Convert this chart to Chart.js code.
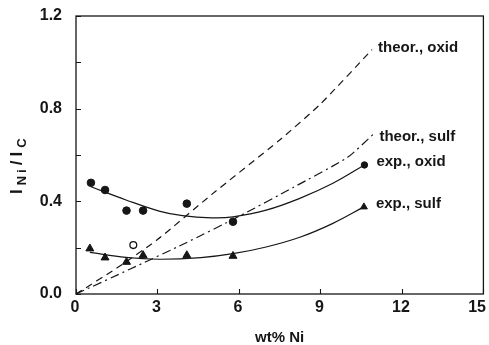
<!DOCTYPE html>
<html>
<head>
<meta charset="utf-8">
<script src="https://cdn.jsdelivr.net/npm/chart.js@4.4.0/dist/chart.umd.min.js"></script>
<style>
  html, body { margin: 0; padding: 0; background: #fff; }
  #wrap { width: 489px; height: 345px; }
</style>
</head>
<body>
<div id="wrap"><canvas id="chart" width="489" height="345"></canvas></div>
<script>
// ===== data (x = wt% Ni, y = I_Ni / I_C) =====
const X_TICKS = [0, 3, 6, 9, 12, 15];
const Y_TICKS = [0, 0.2, 0.4, 0.6, 0.8, 1.0, 1.2];

// measured points
const oxidX = [0.55, 1.07, 1.86, 2.47, 4.08, 5.78];
const oxidY = [0.48, 0.449, 0.36, 0.36, 0.39, 0.312];
const sulfX = [0.51, 1.07, 1.86, 2.47, 4.08, 5.78];
const sulfY = [0.196, 0.157, 0.138, 0.167, 0.167, 0.164];
const openX = [2.11];
const openY = [0.211];

// fitted curves (traced) and their end markers
const fitOxidX = [0.55, 1.84, 3.06, 3.92, 5.0, 5.78, 7.0, 8.24, 9.46, 10.62];
const fitOxidY = [0.463, 0.406, 0.358, 0.338, 0.329, 0.333, 0.362, 0.413, 0.478, 0.557];
const fitSulfX = [0.51, 1.84, 3.06, 4.6, 5.78, 7.0, 8.24, 9.46, 10.6];
const fitSulfY = [0.18, 0.158, 0.15, 0.157, 0.174, 0.203, 0.245, 0.305, 0.376];
const endOxidX = [10.62], endOxidY = [0.557];
const endSulfX = [10.6], endSulfY = [0.376];

// theoretical lines
const theorOxidX = [0, 1.5, 3, 5, 7.5, 9, 10.9];
const theorOxidY = [0, 0.112, 0.235, 0.43, 0.665, 0.82, 1.055];
const theorSulfX = [0, 2, 4, 6, 8, 10, 10.95];
const theorSulfY = [0, 0.108, 0.218, 0.335, 0.46, 0.59, 0.69];

const LABELS = ['theor., oxid', 'theor., sulf', 'exp., oxid', 'exp., sulf'];

// ===== styling =====
const INK = '#161616';
const FONT = '"Liberation Sans", Arial, Helvetica, sans-serif';

// label anchors: data point + pixel offset
const NOTES = [
  { text: LABELS[0], x: 10.9, y: 1.055, dx: 6, dy: -2 },
  { text: LABELS[1], x: 10.95, y: 0.69, dx: 6, dy: 3 },
  { text: LABELS[2], x: 10.62, y: 0.557, dx: 12, dy: -3 },
  { text: LABELS[3], x: 10.6, y: 0.376, dx: 12, dy: -3 },
];

const pts = (xs, ys) => xs.map((x, i) => ({ x, y: ys[i] }));

const lineBase = { showLine: true, pointRadius: 0, borderColor: INK, borderWidth: 1.2, fill: false };
const markBase = { showLine: false, borderColor: INK, backgroundColor: INK, borderWidth: 1 };

// frame, inward tick marks and x tick labels
const framePlugin = {
  id: 'frame',
  afterDatasetsDraw(chart) {
    const { ctx, chartArea: a, scales: { x, y } } = chart;
    ctx.save();
    ctx.strokeStyle = INK;
    ctx.lineWidth = 1.3;
    ctx.strokeRect(a.left, a.top, a.right - a.left, a.bottom - a.top);
    ctx.lineWidth = 1.1;
    ctx.beginPath();
    X_TICKS.forEach(v => {
      const px = Math.round(x.getPixelForValue(v)) + 0.5;
      ctx.moveTo(px, a.bottom); ctx.lineTo(px, a.bottom - 5);
    });
    Y_TICKS.forEach(v => {
      const py = Math.round(y.getPixelForValue(v)) + 0.5;
      ctx.moveTo(a.left, py); ctx.lineTo(a.left + 5, py);
    });
    ctx.stroke();

    ctx.fillStyle = INK;
    ctx.font = 'bold 16px ' + FONT;
    ctx.textAlign = 'center';
    ctx.textBaseline = 'middle';
    X_TICKS.forEach(v => {
      const s = String(v);
      const w = ctx.measureText(s).width;
      const px = Math.min(x.getPixelForValue(v), chart.width - w / 2 - 2);
      ctx.fillText(s, px - 1, a.bottom + 14);
    });

    // series labels
    ctx.font = 'bold 15px ' + FONT;
    ctx.textAlign = 'left';
    NOTES.forEach(n => {
      ctx.fillText(n.text, x.getPixelForValue(n.x) + n.dx, y.getPixelForValue(n.y) + n.dy);
    });
    ctx.restore();
  }
};

// rotated y title with subscripts: I_Ni / I_C
const yTitlePlugin = {
  id: 'yTitle',
  afterDraw(chart) {
    const { ctx } = chart;
    const parts = [
      { t: 'I', size: 17, sub: false },
      { t: 'Ni', size: 13, sub: true },
      { t: '/', size: 17, sub: false },
      { t: 'I', size: 17, sub: false },
      { t: 'C', size: 13, sub: true },
    ];
    ctx.save();
    ctx.translate(22, 194);
    ctx.rotate(-Math.PI / 2);
    ctx.fillStyle = INK;
    ctx.textBaseline = 'alphabetic';
    ctx.textAlign = 'left';
    if ('letterSpacing' in ctx) ctx.letterSpacing = '3px';
    let cx = 0;
    parts.forEach(p => {
      ctx.font = 'bold ' + p.size + 'px ' + FONT;
      ctx.fillText(p.t, cx, p.sub ? 4 : 0);
      cx += ctx.measureText(p.t).width + 1;
    });
    ctx.restore();
  }
};

new Chart(document.getElementById('chart'), {
  type: 'scatter',
  data: {
    datasets: [
      { ...lineBase, data: pts(theorOxidX, theorOxidY), borderDash: [7, 5], tension: 0.2 },
      { ...lineBase, data: pts(theorSulfX, theorSulfY), borderDash: [9, 4, 2, 4], tension: 0.2 },
      { ...lineBase, data: pts(fitOxidX, fitOxidY), tension: 0.4 },
      { ...lineBase, data: pts(fitSulfX, fitSulfY), tension: 0.4 },
      { ...markBase, data: pts(oxidX, oxidY), pointStyle: 'circle', pointRadius: 3.8 },
      { ...markBase, data: pts(sulfX, sulfY), pointStyle: 'triangle', pointRadius: 4.6 },
      { ...markBase, data: pts(openX, openY), pointStyle: 'circle', pointRadius: 3.4, backgroundColor: '#fff', borderWidth: 1.3 },
      { ...markBase, data: pts(endOxidX, endOxidY), pointStyle: 'circle', pointRadius: 3.2 },
      { ...markBase, data: pts(endSulfX, endSulfY), pointStyle: 'triangle', pointRadius: 4 },
    ]
  },
  options: {
    responsive: false,
    animation: false,
    layout: { padding: { left: 0, right: 5, top: 16, bottom: 0 } },
    plugins: { legend: { display: false }, tooltip: { enabled: false } },
    scales: {
      x: {
        type: 'linear', min: 0, max: 15,
        grid: { display: false, drawTicks: false },
        border: { display: false },
        ticks: { display: false, stepSize: 3 },
        title: {
          display: true, text: 'wt% Ni', color: INK,
          font: { family: FONT, size: 15, weight: 'bold', lineHeight: 1 },
          padding: { top: 0, bottom: 0 }
        },
        afterFit: s => { s.height = 51; s.paddingLeft = 0; s.paddingRight = 0; }
      },
      y: {
        type: 'linear', min: 0, max: 1.2,
        grid: { display: false, drawTicks: false },
        border: { display: false },
        ticks: {
          stepSize: 0.2, padding: 14, color: INK,
          font: { family: FONT, size: 16, weight: 'bold' },
          callback: (v, i) => i % 2 === 0 ? v.toFixed(1) : ''
        },
        afterFit: s => { s.width = 76; s.paddingTop = 0; s.paddingBottom = 0; }
      }
    }
  },
  plugins: [framePlugin, yTitlePlugin]
});
</script>
</body>
</html>
